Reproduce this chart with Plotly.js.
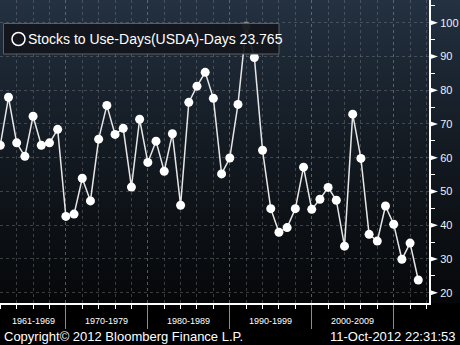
<!DOCTYPE html>
<html>
<head>
<meta charset="utf-8">
<script src="https://cdn.plot.ly/plotly-3.0.1.min.js"></script>
<style>
  html, body { margin: 0; padding: 0; background: #000; }
  #chart {
    width: 460px; height: 345px;
    background: linear-gradient(180deg, #233141 0px, #141b23 140px, #07090b 290px, #050607 303px, #000 303px, #000 345px);
  }
</style>
</head>
<body>
<div id="chart"></div>
<script>
// ---- Data ----
const years = [];
for (let y = 1961; y <= 2012; y++) years.push(y);
const stocksToUseDays = [
  63.7, 77.9, 64.4, 60.4, 72.3, 63.7, 64.4, 68.4, 42.6, 43.3,
  53.9, 47.2, 65.5, 75.5, 66.9, 68.7, 51.3, 71.4, 58.6, 64.9,
  56.0, 67.1, 45.9, 76.4, 81.2, 85.3, 77.6, 55.2, 59.9, 75.8,
  99.0, 89.7, 62.2, 44.9, 37.9, 39.3, 44.9, 57.2, 44.7, 47.7,
  51.2, 47.4, 33.8, 72.9, 59.8, 37.3, 35.3, 45.7, 40.3, 29.9,
  34.7, 23.765
];
const highlightYear = 1991;
const seriesName = "Stocks to Use-Days(USDA)-Days";
const lastValueText = "23.765";
const decadeBounds = [1969, 1979, 1989, 1999, 2009];
const decadeLabels = ["1961-1969", "1970-1979", "1980-1989", "1990-1999", "2000-2009"];
const decadeLabelStarts = [1961, 1969, 1979, 1989, 1999];
const yTickVals = [20, 30, 40, 50, 60, 70, 80, 90, 100];
const copyrightText = "Copyright\u00A9 2012 Bloomberg Finance L.P.";
const stampText = "11-Oct-2012 22:31:53";

// ---- Layout geometry ----
const W = 460, H = 345;
const M = { l: 0, r: 31, t: 0, b: 42 };
const PW = W - M.l - M.r, PH = H - M.t - M.b;
const px = x => x / PW;            // pixel -> paper x
const py = y => 1 - y / PH;        // pixel (from top) -> paper y
const FONT = "Liberation Sans, Arial, sans-serif";
const gridCol = "rgba(120,125,130,0.45)";

const markerColors = years.map(y => y === highlightYear ? "#8a8a8a" : "#ffffff");

const trace = {
  x: years, y: stocksToUseDays,
  type: "scatter", mode: "lines+markers",
  line: { color: "#e6e6e6", width: 1.5 },
  marker: { color: markerColors, size: 9, line: { width: 0 } },
  hoverinfo: "skip", showlegend: false, cliponaxis: false
};

const shapes = [];
// legend box
shapes.push({ type: "rect", xref: "paper", yref: "paper",
  x0: px(3.5), x1: px(279), y0: py(54), y1: py(23.5),
  fillcolor: "rgba(18,22,27,0.92)", line: { color: "#5a5f66", width: 1 } });
// hollow circle legend symbol
shapes.push({ type: "circle", xref: "paper", yref: "paper",
  x0: px(12), x1: px(25), y0: py(45.5), y1: py(32.5),
  fillcolor: "rgba(0,0,0,0)", line: { color: "#ffffff", width: 1.5 } });
// y tick flags (triangles) from tick values
const yPerPx = (106.73 - 16.95) / PH;
yTickVals.forEach(v => {
  const h = 3 * yPerPx;
  shapes.push({ type: "path", xref: "paper", yref: "y",
    path: `M 1,${v + h} L ${px(PW + 9)},${v} L 1,${v - h} Z`,
    fillcolor: "#ffffff", line: { width: 0 } });
});

const annotations = [];
annotations.push({ xref: "paper", yref: "paper", x: px(26), y: py(39.5),
  xanchor: "left", yanchor: "middle", showarrow: false,
  text: seriesName + " " + lastValueText,
  font: { family: FONT, size: 14, color: "#ffffff" } });
decadeLabels.forEach((t, i) => {
  annotations.push({ xref: "x", yref: "paper",
    x: (decadeLabelStarts[i] + decadeBounds[i]) / 2,
    y: py(320.5), xanchor: "center", yanchor: "middle", showarrow: false,
    text: t, font: { family: FONT, size: 9, color: "#ffffff" } });
});
annotations.push({ xref: "paper", yref: "paper", x: px(2), y: py(336.5),
  xanchor: "left", yanchor: "middle", showarrow: false, text: copyrightText,
  font: { family: FONT, size: 13, color: "#ffffff" } });
annotations.push({ xref: "paper", yref: "paper", x: px(458), y: py(336.5),
  xanchor: "right", yanchor: "middle", showarrow: false, text: stampText,
  font: { family: FONT, size: 13, color: "#ffffff" } });

const layout = {
  width: W, height: H, margin: M,
  paper_bgcolor: "rgba(0,0,0,0)", plot_bgcolor: "rgba(0,0,0,0)",
  showlegend: false,
  xaxis: {
    range: [1960.963, 2013.31], showticklabels: false,
    tickmode: "array", tickvals: decadeBounds,
    ticks: "outside", ticklen: 24, tickwidth: 1, tickcolor: "#8c8c8c",
    showgrid: true, gridcolor: gridCol, griddash: "3px,3px", gridwidth: 1,
    minor: { dtick: 2, tick0: 1969, ticks: "outside", ticklen: 4, tickwidth: 1,
      tickcolor: "#ffffff", showgrid: true, gridcolor: gridCol, griddash: "3px,3px" },
    showline: true, linecolor: "#ffffff", linewidth: 2, zeroline: false, fixedrange: true
  },
  yaxis: {
    side: "right", range: [16.95, 106.73],
    tickmode: "array", tickvals: yTickVals,
    ticks: "outside", ticklen: 7, tickcolor: "rgba(0,0,0,0)",
    tickfont: { family: FONT, size: 11, color: "#eaf1f7" },
    showgrid: true, gridcolor: gridCol, griddash: "3px,3px", gridwidth: 1,
    minor: { dtick: 5, tick0: 0, ticks: "outside", ticklen: 4, tickwidth: 1,
      tickcolor: "#ffffff", showgrid: false },
    showline: true, linecolor: "#ffffff", linewidth: 2, zeroline: false, fixedrange: true
  },
  shapes: shapes,
  annotations: annotations
};

Plotly.newPlot("chart", [trace], layout, { displayModeBar: false, staticPlot: true });
</script>
</body>
</html>
